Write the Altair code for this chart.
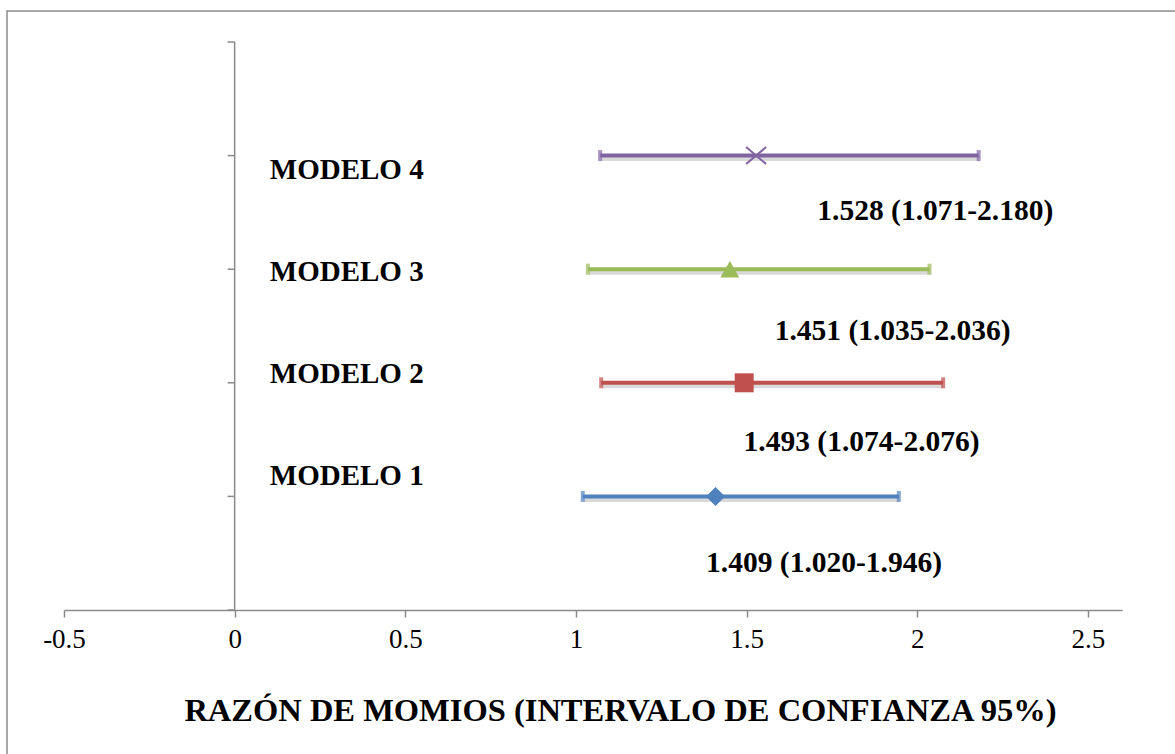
import altair as alt
import pandas as pd

# Odds ratios with 95% confidence intervals for each model
models = ["MODELO 1", "MODELO 2", "MODELO 3", "MODELO 4"]
odds_ratio = [1.409, 1.493, 1.451, 1.528]
ci_low = [1.020, 1.074, 1.035, 1.071]
ci_high = [1.946, 2.076, 2.036, 2.180]
row = [1, 2, 3, 4]
colors = ["#4F81BD", "#C0504D", "#9BBB59", "#8064A2"]

# Where the annotation texts sit (in axis units)
name_label_y = [1.10, 2.00, 2.90, 3.79]
value_label_x = [1.727, 1.837, 1.928, 2.053]
value_label_y = [0.335, 1.40, 2.377, 3.433]

x_ticks = [-0.5, 0, 0.5, 1, 1.5, 2, 2.5]
y_ticks = [0, 1, 2, 3, 4, 5]

df = pd.DataFrame({
    "model": models,
    "or": odds_ratio,
    "lo": ci_low,
    "hi": ci_high,
    "row": row,
    "name_y": name_label_y,
    "val_x": value_label_x,
    "val_y": value_label_y,
})
df["label"] = [f"{o:.3f} ({l:.3f}-{h:.3f})" for o, l, h in zip(odds_ratio, ci_low, ci_high)]

SERIF = "Liberation Serif"
AXIS_GRAY = "#8a8a8a"

x_scale = alt.Scale(domain=[-0.5, 2.6], nice=False, zero=False)
y_scale = alt.Scale(domain=[0, 5], nice=False, zero=False)
color_scale = alt.Scale(domain=models, range=colors)

base = alt.Chart(df)

# Outer frame around the chart
frame = alt.Chart(pd.DataFrame({"k": [0]})).mark_rect(
    fillOpacity=0, stroke="#8c8c8c", strokeWidth=1.5
).encode(
    x=alt.value(-57), x2=alt.value(1300), y=alt.value(-31), y2=alt.value(900)
)

# Vertical axis line through x = 0 with its ticks
yaxis_line = alt.Chart(pd.DataFrame({"k": [0]})).mark_rule(
    color=AXIS_GRAY, strokeWidth=1.5
).encode(
    x=alt.datum(0, scale=x_scale,
                axis=alt.Axis(values=x_ticks, labelExpr="datum.value + ''",
                              title="RAZÓN DE MOMIOS (INTERVALO DE CONFIANZA 95%)")),
    y=alt.datum(0, scale=y_scale, axis=None),
    y2=alt.datum(5),
)

yaxis_ticks = alt.Chart(pd.DataFrame({"t": y_ticks})).mark_rule(
    color=AXIS_GRAY, strokeWidth=1.5, x2Offset=-7
).encode(
    x=alt.datum(0, scale=x_scale),
    x2=alt.datum(0),
    y=alt.Y("t:Q", scale=y_scale, axis=None),
)

# Soft shadow under the interval lines
shadow = base.mark_rule(color="#000000", opacity=0.15, strokeWidth=5, yOffset=3, xOffset=1).encode(
    x=alt.X("lo:Q", scale=x_scale),
    x2="hi:Q",
    y=alt.Y("row:Q", scale=y_scale),
)

interval = base.mark_rule(strokeWidth=4).encode(
    x=alt.X("lo:Q", scale=x_scale),
    x2="hi:Q",
    y=alt.Y("row:Q", scale=y_scale),
    color=alt.Color("model:N", scale=color_scale, legend=None),
)

cap_lo = base.mark_tick(orient="vertical", size=11, thickness=4).encode(
    x=alt.X("lo:Q", scale=x_scale),
    y=alt.Y("row:Q", scale=y_scale),
    color=alt.Color("model:N", scale=color_scale, legend=None),
)
cap_hi = base.mark_tick(orient="vertical", size=11, thickness=4).encode(
    x=alt.X("hi:Q", scale=x_scale),
    y=alt.Y("row:Q", scale=y_scale),
    color=alt.Color("model:N", scale=color_scale, legend=None),
)

# Point estimates: filled diamond / square / triangle, stroked X
filled_points = base.transform_filter(
    alt.datum.model != "MODELO 4"
).mark_point(filled=True, opacity=1, size=360).encode(
    x=alt.X("or:Q", scale=x_scale),
    y=alt.Y("row:Q", scale=y_scale),
    color=alt.Color("model:N", scale=color_scale, legend=None),
    shape=alt.Shape("model:N", scale=alt.Scale(domain=models[:3], range=["diamond", "square", "triangle-up"]), legend=None),
)

x_point = base.transform_filter(
    alt.datum.model == "MODELO 4"
).mark_point(shape="M-1,-0.85L1,0.85M1,-0.85L-1,0.85", filled=False, opacity=1,
             size=400, strokeWidth=2).encode(
    x=alt.X("or:Q", scale=x_scale),
    y=alt.Y("row:Q", scale=y_scale),
    color=alt.Color("model:N", scale=color_scale, legend=None),
)

name_labels = base.mark_text(
    align="left", baseline="alphabetic", font=SERIF, fontWeight="bold",
    fontSize=29, color="black"
).encode(
    x=alt.datum(0.103, scale=x_scale),
    y=alt.Y("name_y:Q", scale=y_scale),
    text="model:N",
)

value_labels = base.mark_text(
    align="center", baseline="alphabetic", font=SERIF, fontWeight="bold",
    fontSize=29.5, color="black"
).encode(
    x=alt.X("val_x:Q", scale=x_scale),
    y=alt.Y("val_y:Q", scale=y_scale),
    text="label:N",
)

chart = alt.layer(
    frame, yaxis_line, yaxis_ticks, shadow, interval, cap_lo, cap_hi,
    filled_points, x_point, name_labels, value_labels
).properties(
    width=1058, height=568,
    autosize=alt.AutoSizeParams(type="none"),
    padding={"left": 64, "top": 42, "right": 53, "bottom": 144},
    background="white",
).configure_view(
    stroke=None
).configure_axisX(
    domainColor=AXIS_GRAY, domainWidth=1.5, tickColor=AXIS_GRAY, tickWidth=1.5,
    tickSize=7, grid=False, labelFont=SERIF, labelFontSize=27, labelColor="black",
    labelPadding=9, labelFlush=False, titleFont=SERIF, titleFontSize=32.5,
    titleFontWeight="bold", titleColor="black", titleX=556, titleY=110,
    titleBaseline="alphabetic", titleAnchor="middle", titleAlign="center",
)

chart.save("out.html", embed_options={"renderer": "svg", "actions": False})
